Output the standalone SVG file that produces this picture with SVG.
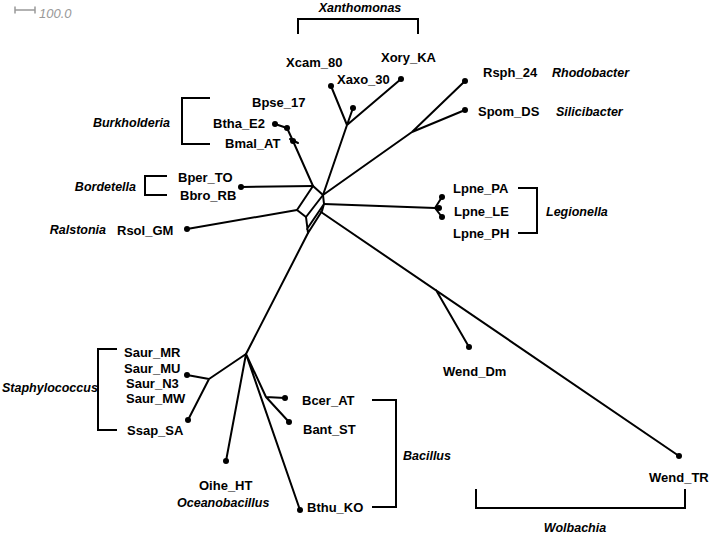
<svg xmlns="http://www.w3.org/2000/svg" width="711" height="535" viewBox="0 0 711 535">
<style>
.e{fill:none;stroke:#000;stroke-width:2;stroke-linecap:round;stroke-linejoin:round}
.b{fill:none;stroke:#000;stroke-width:2}
.d{fill:#000}
.t{font-family:"Liberation Sans",Arial,sans-serif;font-size:13px;font-weight:bold;fill:#000}
.c{font-family:"Liberation Sans",Arial,sans-serif;font-size:12.5px;font-weight:bold;font-style:italic;fill:#000}
</style>
<rect width="711" height="535" fill="#fff"/>
<g id="scale">
<path d="M15,10H35M15,6.5V13.5M35,6.5V13.5" stroke="#999" stroke-width="1.5" fill="none"/>
<text x="39" y="17.5" font-family="Liberation Sans,Arial,sans-serif" font-size="13" font-style="italic" fill="#999">100.0</text>
</g>
<g id="connectors">
<path class="e" d="M313,186L323,195L306,217L297,210Z"/>
<path class="e" d="M323,195L324,204L307,229M306,217L308,233L322,211M324,204L322,211"/>
<path class="e" d="M313,186L293,141L287,128L275,124M290,139L298,143"/>
<path class="e" d="M313,186L241,187"/>
<path class="e" d="M297,210L187,229"/>
<path class="e" d="M323,195L347,125L331,86M347,125L353,108M347,125L401,79"/>
<path class="e" d="M323,195L412,132L465,81M412,132L465,110"/>
<path class="e" d="M324,204L435,208L442,197M435,208L439,208M435,208L442,217"/>
<path class="e" d="M321,212L679,456M436,290L469,347"/>
<path class="e" d="M308,233L246,354L209,379L187,375M209,379L188,420"/>
<path class="e" d="M246,354L226,461M246,354L300,510M246,354L266,397L289,422M266,397L285,398"/>
</g>
<g id="Xory_KA"><circle class="d" cx="401" cy="79" r="3"/><text class="t" x="381" y="61.5">Xory_KA</text></g>
<g id="Xcam_80"><circle class="d" cx="331" cy="86" r="3"/><text class="t" x="286" y="66.5">Xcam_80</text></g>
<g id="Xaxo_30"><circle class="d" cx="353" cy="108" r="3"/><text class="t" x="337" y="83.5">Xaxo_30</text></g>
<g id="Rsph_24"><circle class="d" cx="465" cy="81" r="3"/><text class="t" x="483" y="76.5">Rsph_24</text></g>
<g id="Spom_DS"><circle class="d" cx="465" cy="110" r="3"/><text class="t" x="478" y="115.5">Spom_DS</text></g>
<g id="Bpse_17"><circle class="d" cx="287" cy="128" r="3"/><text class="t" x="252" y="106.5">Bpse_17</text></g>
<g id="Btha_E2"><circle class="d" cx="275" cy="124" r="3"/><text class="t" x="213" y="127.5">Btha_E2</text></g>
<g id="Bmal_AT"><circle class="d" cx="293" cy="141" r="3"/><text class="t" x="225" y="147.5">Bmal_AT</text></g>
<g id="Bper_TO"><text class="t" x="178" y="181.5">Bper_TO</text></g>
<g id="Bbro_RB"><circle class="d" cx="241" cy="187" r="3"/><text class="t" x="180" y="199.5">Bbro_RB</text></g>
<g id="Rsol_GM"><circle class="d" cx="187" cy="229" r="3"/><text class="t" x="117" y="234.5">Rsol_GM</text></g>
<g id="Lpne_PA"><circle class="d" cx="442" cy="197" r="3"/><text class="t" x="453" y="192.5">Lpne_PA</text></g>
<g id="Lpne_LE"><circle class="d" cx="439" cy="208" r="3"/><text class="t" x="454" y="215.5">Lpne_LE</text></g>
<g id="Lpne_PH"><circle class="d" cx="442" cy="217" r="3"/><text class="t" x="453" y="237.5">Lpne_PH</text></g>
<g id="Saur_MR"><text class="t" x="124" y="356.5">Saur_MR</text></g>
<g id="Saur_MU"><circle class="d" cx="187" cy="375" r="3"/><text class="t" x="124" y="372.5">Saur_MU</text></g>
<g id="Saur_N3"><text class="t" x="126" y="387.5">Saur_N3</text></g>
<g id="Saur_MW"><text class="t" x="126" y="402.5">Saur_MW</text></g>
<g id="Ssap_SA"><circle class="d" cx="188" cy="420" r="3"/><text class="t" x="127" y="434.5">Ssap_SA</text></g>
<g id="Bcer_AT"><circle class="d" cx="285" cy="398" r="3"/><text class="t" x="302" y="404.5">Bcer_AT</text></g>
<g id="Bant_ST"><circle class="d" cx="289" cy="422" r="3"/><text class="t" x="303" y="433.5">Bant_ST</text></g>
<g id="Bthu_KO"><circle class="d" cx="300" cy="510" r="3"/><text class="t" x="307" y="511.5">Bthu_KO</text></g>
<g id="Oihe_HT"><circle class="d" cx="226" cy="461" r="3"/><text class="t" x="199" y="489.5">Oihe_HT</text></g>
<g id="Wend_Dm"><circle class="d" cx="469" cy="347" r="3"/><text class="t" x="443" y="375.5">Wend_Dm</text></g>
<g id="Wend_TR"><circle class="d" cx="679" cy="456" r="3"/><text class="t" x="649" y="481.5">Wend_TR</text></g>
<g id="Xanthomonas"><path class="b" d="M298,34V19H418V34"/><text class="c" x="360" y="12" text-anchor="middle">Xanthomonas</text></g>
<g id="Rhodobacter"><text class="c" x="552" y="76.5">Rhodobacter</text></g>
<g id="Silicibacter"><text class="c" x="556" y="115.5">Silicibacter</text></g>
<g id="Burkholderia"><path class="b" d="M210,98H182V144H210"/><text class="c" x="170" y="126.5" text-anchor="end">Burkholderia</text></g>
<g id="Bordetella"><path class="b" d="M167,176H145V195H167"/><text class="c" x="136" y="190.5" text-anchor="end">Bordetella</text></g>
<g id="Ralstonia"><text class="c" x="106" y="234" text-anchor="end">Ralstonia</text></g>
<g id="Legionella"><path class="b" d="M518,188H537V233H518"/><text class="c" x="546" y="215.5">Legionella</text></g>
<g id="Staphylococcus"><path class="b" d="M117,349H98V430H117"/><text class="c" x="2" y="391.5">Staphylococcus</text></g>
<g id="Oceanobacillus"><text class="c" x="177" y="506.5">Oceanobacillus</text></g>
<g id="Bacillus"><path class="b" d="M372,400H396V507H372"/><text class="c" x="403" y="459.5">Bacillus</text></g>
<g id="Wolbachia"><path class="b" d="M476,489V508H685V489"/><text class="c" x="575" y="531.5" text-anchor="middle">Wolbachia</text></g>
</svg>
